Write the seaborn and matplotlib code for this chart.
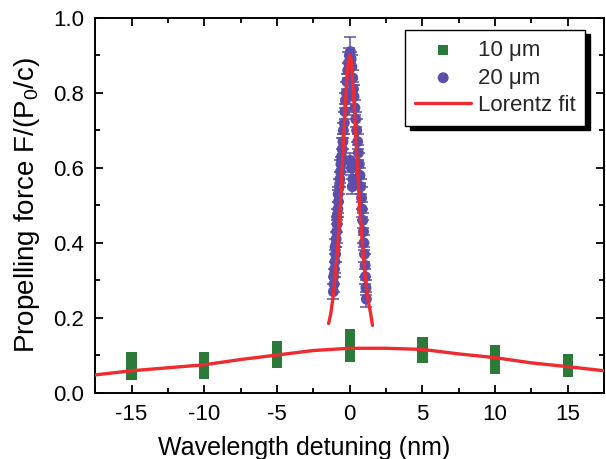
import numpy as np
import pandas as pd
import seaborn as sns
import matplotlib
matplotlib.use("Agg")
import matplotlib.pyplot as plt
from matplotlib.ticker import MultipleLocator

# ---- 10 um particle: repeated measurements at each detuning ----
g_x = [-15] * 6 + [-10] * 6 + [-5] * 6 + [0] * 7 + [5] * 6 + [10] * 6 + [15] * 6
g_y = [0.048, 0.058, 0.067, 0.076, 0.086, 0.095,
       0.050, 0.059, 0.068, 0.078, 0.087, 0.095,
       0.080, 0.089, 0.098, 0.106, 0.115, 0.124,
       0.096, 0.106, 0.117, 0.127, 0.138, 0.148, 0.158,
       0.093, 0.101, 0.110, 0.118, 0.127, 0.135,
       0.064, 0.073, 0.083, 0.093, 0.103, 0.113,
       0.057, 0.063, 0.070, 0.076, 0.083, 0.089]
g_err = [0.004, 0.004, 0.004, 0.004, 0.004, 0.008,
         0.004, 0.005, 0.004, 0.004, 0.004, 0.006,
         0.004, 0.004, 0.005, 0.004, 0.004, 0.005,
         0.004, 0.004, 0.004, 0.004, 0.004, 0.004, 0.005,
         0.004, 0.004, 0.004, 0.004, 0.004, 0.005,
         0.004, 0.004, 0.004, 0.004, 0.004, 0.005,
         0.006, 0.006, 0.006, 0.006, 0.006, 0.008]

# ---- 20 um particle: narrow resonance ----
p_x = [-1.12, -1.07, -1.10, -1.04, -1.01, -0.97, -1.00, -0.93, -0.90, -0.86,
       -0.88, -0.81, -0.77, -0.79, -0.71, -0.67, -0.63, -0.60, -0.56, -0.51,
       -0.46, -0.43, -0.37, -0.33, -0.29, -0.23, -0.19, -0.13, -0.08, -0.02,
       0.05, 0.10, 0.15, 0.21, 0.26, 0.30, 0.36, 0.42, 0.48, 0.55,
       0.60, 0.66, 0.71, 0.76, 0.82, 0.86, 0.90, 0.95, 0.98, 1.02,
       1.06, 1.08, 1.12, 1.15, 0.12, 0.22, 0.04, 0.18]
p_y = [0.27, 0.29, 0.31, 0.33, 0.35, 0.37, 0.39, 0.41, 0.43, 0.45,
       0.47, 0.49, 0.51, 0.53, 0.55, 0.57, 0.59, 0.61, 0.63, 0.65,
       0.67, 0.70, 0.72, 0.75, 0.78, 0.80, 0.83, 0.86, 0.88, 0.90,
       0.91, 0.89, 0.87, 0.84, 0.81, 0.79, 0.76, 0.73, 0.70, 0.67,
       0.64, 0.61, 0.58, 0.55, 0.52, 0.49, 0.46, 0.43, 0.40, 0.37,
       0.34, 0.31, 0.28, 0.25, 0.60, 0.57, 0.62, 0.55]
p_err = [0.02, 0.02, 0.02, 0.02, 0.03, 0.02, 0.02, 0.02, 0.03, 0.02,
         0.02, 0.02, 0.03, 0.02, 0.02, 0.02, 0.03, 0.02, 0.02, 0.03,
         0.02, 0.02, 0.03, 0.02, 0.02, 0.03, 0.02, 0.02, 0.03, 0.02,
         0.04, 0.02, 0.03, 0.02, 0.02, 0.03, 0.02, 0.02, 0.03, 0.02,
         0.02, 0.03, 0.02, 0.02, 0.03, 0.02, 0.02, 0.03, 0.02, 0.02,
         0.03, 0.02, 0.02, 0.02, 0.02, 0.02, 0.02, 0.02]

# ---- Lorentz fits ----
fit_wide_x = [-17.5, -15, -12.5, -10, -7.5, -5, -2.5, 0, 2.5, 5, 7.5, 10, 12.5, 15, 17.5]
fit_wide_y = [0.048, 0.059, 0.067, 0.075, 0.089, 0.101, 0.113, 0.119, 0.119, 0.116,
              0.104, 0.094, 0.080, 0.070, 0.059]
fit_narrow_x = [-1.45, -1.30, -1.15, -1.00, -0.85, -0.70, -0.55, -0.40, -0.25, -0.10, 0.0,
                0.10, 0.25, 0.40, 0.55, 0.70, 0.85, 1.00, 1.15, 1.30, 1.45, 1.57]
fit_narrow_y = [0.185, 0.211, 0.253, 0.307, 0.376, 0.463, 0.568, 0.688, 0.803, 0.883, 0.900,
                0.890, 0.810, 0.700, 0.590, 0.490, 0.410, 0.340, 0.285, 0.240, 0.210, 0.180]

x_ticks = [-15, -10, -5, 0, 5, 10, 15]
y_ticks = [0.0, 0.2, 0.4, 0.6, 0.8, 1.0]

GREEN = "#2c7a3a"
PURPLE = "#5a4fab"
RED = "#ef2b2f"

sns.set_theme(style="ticks")
plt.rcParams["font.family"] = ["Liberation Sans", "DejaVu Sans"]
plt.rcParams["mathtext.default"] = "regular"

fig = plt.figure(figsize=(6.06, 4.59), dpi=100)
ax = fig.add_axes([0.157, 0.144, 0.840, 0.817])

df_g = pd.DataFrame({"x": g_x, "y": g_y})
df_p = pd.DataFrame({"x": p_x, "y": p_y})
df_fw = pd.DataFrame({"x": fit_wide_x, "y": fit_wide_y})
df_fn = pd.DataFrame({"x": fit_narrow_x, "y": fit_narrow_y})

# error bars first, then markers, then fits on top
ax.errorbar(g_x, g_y, yerr=g_err, fmt="none", ecolor=GREEN, elinewidth=1.0,
            capsize=3, capthick=1.0, zorder=2)
ax.errorbar(p_x, p_y, yerr=p_err, fmt="none", ecolor=PURPLE, elinewidth=1.1,
            capsize=4, capthick=1.1, zorder=2)

sns.scatterplot(data=df_g, x="x", y="y", ax=ax, marker="s", s=55, color=GREEN,
                edgecolor="none", linewidth=0, label="10 \u03bcm", zorder=3)
sns.scatterplot(data=df_p, x="x", y="y", ax=ax, marker="o", s=62, color=PURPLE,
                edgecolor="none", linewidth=0, label="20 \u03bcm", zorder=3)
sns.lineplot(data=df_fw, x="x", y="y", ax=ax, sort=False, color=RED, lw=2.4,
             label="Lorentz fit", zorder=4)
sns.lineplot(data=df_fn, x="x", y="y", ax=ax, sort=False, color=RED, lw=2.4,
             zorder=4)

ax.set_xlim(-17.5, 17.5)
ax.set_ylim(0.0, 1.0)
ax.set_xticks(x_ticks)
ax.set_xticklabels([str(t) for t in x_ticks])
ax.set_yticks(y_ticks)
ax.set_yticklabels([f"{t:.1f}" for t in y_ticks])
ax.xaxis.set_minor_locator(MultipleLocator(2.5))
ax.yaxis.set_minor_locator(MultipleLocator(0.1))

ax.tick_params(which="both", direction="in", top=True, right=True, colors="black",
               labelsize=16, width=1.3)
ax.tick_params(which="major", length=6, pad=8)
ax.tick_params(which="minor", length=3.5)
for sp in ax.spines.values():
    sp.set_linewidth(1.4)
    sp.set_color("black")

ax.set_xlabel("Wavelength detuning (nm)", fontsize=18, color="black")
ax.set_ylabel("Propelling force F/(P$_0$/c)", fontsize=20, color="black")
ax.xaxis.set_label_coords(0.41, -0.115)
ax.yaxis.set_label_coords(-0.105, 0.5)

leg = ax.legend(loc="upper right", bbox_to_anchor=(0.963, 0.968), borderaxespad=0,
                fontsize=16, frameon=True, fancybox=False, edgecolor="black",
                framealpha=1, shadow={"ox": 3, "oy": -3, "color": "black", "alpha": 1},
                handlelength=2.5, handletextpad=0.3, borderpad=0.45,
                labelspacing=0.3, markerscale=1.0)
leg.get_frame().set_linewidth(1.0)

fig.savefig("out.png", dpi=100)
